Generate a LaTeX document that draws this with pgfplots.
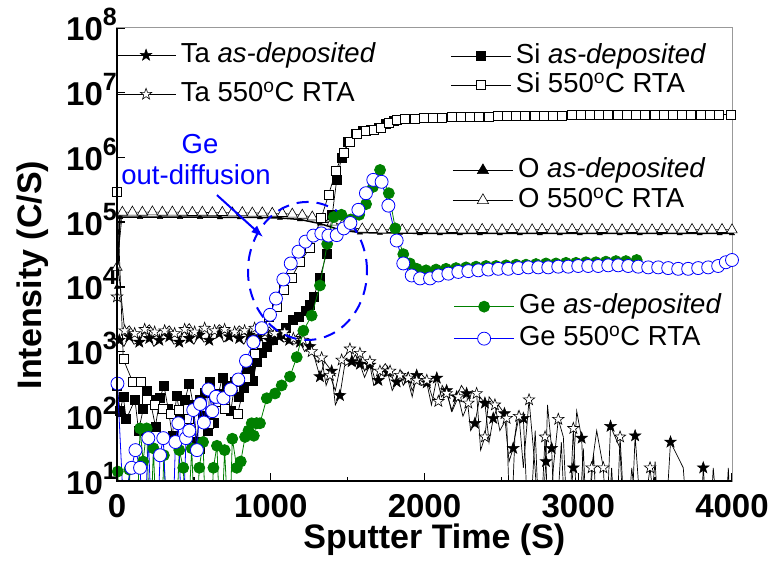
\documentclass[border=0pt]{standalone}
\usepackage{fontspec}
\setmainfont{Liberation Sans}
\usepackage{pgfplots}
\pgfplotsset{compat=1.18}
\usetikzlibrary{arrows.meta}
\definecolor{geg}{RGB}{0,128,0}

% five-pointed star mark
\pgfdeclareplotmark{pstar}{%
  \pgfpathmoveto{\pgfqpointpolar{90}{\pgfplotmarksize}}%
  \pgfpathlineto{\pgfqpointpolar{126}{0.4\pgfplotmarksize}}%
  \pgfpathlineto{\pgfqpointpolar{162}{\pgfplotmarksize}}%
  \pgfpathlineto{\pgfqpointpolar{198}{0.4\pgfplotmarksize}}%
  \pgfpathlineto{\pgfqpointpolar{234}{\pgfplotmarksize}}%
  \pgfpathlineto{\pgfqpointpolar{270}{0.4\pgfplotmarksize}}%
  \pgfpathlineto{\pgfqpointpolar{306}{\pgfplotmarksize}}%
  \pgfpathlineto{\pgfqpointpolar{342}{0.4\pgfplotmarksize}}%
  \pgfpathlineto{\pgfqpointpolar{18}{\pgfplotmarksize}}%
  \pgfpathlineto{\pgfqpointpolar{54}{0.4\pgfplotmarksize}}%
  \pgfpathclose
  \pgfusepathqfillstroke
}

\newcommand{\yl}[1]{\fontsize{33}{33}\selectfont\bfseries 10\raisebox{15pt}{\fontsize{25}{25}\selectfont\bfseries #1}}
\newcommand{\lf}{\fontsize{27.5}{33}\selectfont}

\pgfplotsset{
  legend image code/.code={\draw[mark repeat=2,mark phase=2,#1] plot coordinates {(0pt,0pt) (30pt,0pt) (60pt,0pt)};},
  every axis/.append style={scale only axis, width=615pt, height=453pt,
    xmin=0, xmax=4000, ymin=10, ymax=1e8, legend cell align=left},
  pta/.style={black, line width=0.7pt, mark=pstar, mark size=6pt, mark repeat=2, mark options={solid, line width=0.6pt, fill=black}},
  ptar/.style={pta, mark options={solid, line width=0.6pt, fill=white}},
  psi/.style={black, line width=0.7pt, mark=square*, mark size=4.5pt, mark options={solid, line width=0.6pt, fill=black}},
  psir/.style={psi, mark options={solid, line width=0.6pt, fill=white}},
  pge/.style={geg, line width=0.8pt, mark=*, mark size=5.5pt, mark options={solid, fill=geg, draw=geg}},
  pger/.style={blue, line width=0.8pt, mark=*, mark size=6.5pt, mark options={solid, fill=white, draw=blue, line width=0.8pt}},
}

\begin{document}
\begin{tikzpicture}
\useasboundingbox (-117pt,-82pt) rectangle (656pt,481pt);

% O profiles, frame, ticks and labels
\begin{semilogyaxis}[
  legend style={draw=none, fill=none, inner sep=0pt, anchor=north west, at={(0.5447,0.715)}, font=\lf,
    nodes={inner xsep=4.5pt, inner ysep=0pt, text height=20pt, text depth=6pt}, row sep=4pt},
  legend image post style={mark size=6.5pt},
  axis line style={draw=gray!80, line width=1pt},
  tick pos=left, tick align=inside,
  major tick length=8pt, minor tick length=4pt,
  tick style={black, line width=1.5pt},
  xtick={0,1000,2000,3000,4000}, xticklabels={0,1000,2000,3000,4000},
  minor xtick={500,1500,2500,3500},
  ytick={1e1,1e2,1e3,1e4,1e5,1e6,1e7,1e8}, yminorticks=false,
  yticklabels={{\yl{1}},{\yl{2}},{\yl{3}},{\yl{4}},{\yl{5}},{\yl{6}},{\yl{7}},{\yl{8}}},
  xticklabel style={anchor=north, inner sep=0pt, yshift=-13pt, font=\fontsize{33}{33}\selectfont\bfseries},
  yticklabel style={anchor=base east, inner sep=0pt, yshift=-13pt},
  xlabel={Sputter Time (S)}, ylabel={Intensity (C/S)},
  xlabel style={at={(axis description cs:0.516,-0.094)}, anchor=north, inner sep=0pt, font=\fontsize{34}{34}\selectfont\bfseries},
  ylabel style={at={(axis description cs:-0.1366,0.4547)}, anchor=center, inner sep=0pt, font=\fontsize{34}{34}\selectfont\bfseries}]
\addplot[black, line width=1.5pt, mark=triangle*, mark size=3pt, mark options={solid, fill=black, line width=0.5pt}] coordinates {
(0,1e4)(20,1.2e5)(150,1.2e5)(280,1.2e5)(410,1.2e5)(540,1.2e5)(670,1.19e5)(800,1.19e5)(930,1.18e5)(1060,1.16e5)(1190,1.1e5)(1320,9.5e4)(1450,7.6e4)(1580,6.9e4)(1710,6.8e4)(1840,6.8e4)(1970,6.7e4)(2100,6.7e4)(2230,6.7e4)(2360,6.7e4)(2490,6.7e4)(2620,6.7e4)(2750,6.7e4)(2880,6.7e4)(3010,6.7e4)(3140,6.7e4)(3270,6.7e4)(3400,6.7e4)(3530,6.7e4)(3660,6.7e4)(3790,6.7e4)(3920,6.7e4)(4000,6.7e4)};
\addlegendentry{O \textit{as-deposited}}
\addplot[black, line width=0.6pt, mark=triangle*, mark size=6pt, mark options={solid, fill=white, line width=0.6pt}] coordinates {
(0,2e4)(35,1.42e5)(100,1.43e5)(165,1.42e5)(230,1.44e5)(295,1.42e5)(360,1.43e5)(425,1.42e5)(490,1.41e5)(555,1.42e5)(620,1.40e5)(685,1.41e5)(750,1.39e5)(815,1.40e5)(880,1.38e5)(945,1.39e5)(1010,1.37e5)(1075,1.36e5)(1140,1.33e5)(1205,1.28e5)(1270,1.2e5)(1335,1.1e5)(1400,1.0e5)(1465,9e4)(1530,8.2e4)(1595,7.8e4)(1660,7.7e4)(1725,7.6e4)(1790,7.7e4)(1855,7.6e4)(1920,7.6e4)(1985,7.7e4)(2050,7.6e4)(2115,7.6e4)(2180,7.7e4)(2245,7.6e4)(2310,7.6e4)(2375,7.7e4)(2440,7.6e4)(2505,7.6e4)(2570,7.7e4)(2635,7.6e4)(2700,7.6e4)(2765,7.7e4)(2830,7.6e4)(2895,7.6e4)(2960,7.7e4)(3025,7.6e4)(3090,7.6e4)(3155,7.7e4)(3220,7.6e4)(3285,7.6e4)(3350,7.7e4)(3415,7.6e4)(3480,7.6e4)(3545,7.7e4)(3610,7.6e4)(3675,7.6e4)(3740,7.7e4)(3805,7.6e4)(3870,7.6e4)(3935,7.7e4)(4000,7.6e4)};
\addlegendentry{O 550\textsuperscript{o}C RTA}
\end{semilogyaxis}

% Si profiles
\begin{semilogyaxis}[hide axis,
  legend style={draw=none, fill=none, inner sep=0pt, anchor=north west, at={(0.5423,0.967)}, font=\lf,
    nodes={inner xsep=4.5pt, inner ysep=0pt, text height=20pt, text depth=6pt}, row sep=3pt}]
\addplot[psi, forget plot] coordinates {
(0,300)(20,120)(41,200)(60,90)(117,180)(140,60)(171,130)(195,250)(215,180)(250,70)(280,190)(305,300)(333,130)(360,50)(388,210)(415,90)(442,180)(470,320)(496,150)(520,40)(540,180)(555,100)(572,230)(590,60)(605,340)(630,80)(659,220)(685,400)(713,300)(740,120)(768,340)(795,200)(822,280)(845,500)(865,490)(885,350)(908,700)};
\addplot[psi] coordinates {
(908,700)(941,950)(975,1200)(1015,1500)(1060,1900)(1095,2300)(1145,3100)(1180,3500)(1225,4300)(1255,5200)(1280,7000)(1320,1.4e4)(1364,3.3e4)(1400,1.3e5)(1429,4.5e5)(1461,1.0e6)(1504,1.75e6)(1550,2.3e6)(1600,2.55e6)(1650,2.7e6)(1700,2.85e6)(1750,3.3e6)(1800,3.7e6)(1873,3.9e6)
(1935,4.0e6)(1995,4.05e6)(2055,4.1e6)(2115,4.15e6)(2175,4.2e6)(2235,4.2e6)(2295,4.25e6)(2355,4.3e6)(2415,4.3e6)(2475,4.35e6)(2535,4.35e6)(2595,4.4e6)(2655,4.4e6)(2715,4.4e6)(2775,4.45e6)(2835,4.45e6)(2895,4.45e6)(2955,4.5e6)(3015,4.5e6)(3075,4.5e6)(3135,4.5e6)(3195,4.5e6)(3255,4.55e6)(3315,4.55e6)(3375,4.55e6)(3435,4.55e6)(3495,4.55e6)(3555,4.6e6)(3615,4.6e6)(3675,4.6e6)(3735,4.6e6)(3795,4.6e6)(3855,4.6e6)(3915,4.6e6)(3990,4.6e6)};
\addlegendentry{Si \textit{as-deposited}}
\addplot[psir] coordinates {
(0,2.9e5)(41,760)(102,340)(154,340)(193,180)(247,150)(301,130)(351,110)(399,125)(464,93)(540,32)(594,76)(653,170)(702,130)(785,110)(840,400)(898,930)(952,1900)(985,3500)(1039,5000)(1082,9000)(1136,1.4e4)(1190,2.4e4)(1255,4e4)(1328,1.15e5)(1375,2.6e5)(1424,6.2e5)(1472,1.2e6)(1515,1.75e6)(1559,2.35e6)(1619,2.6e6)(1667,2.7e6)(1715,2.9e6)(1765,3.4e6)(1819,3.8e6)(1873,3.9e6)
(1935,4.0e6)(1995,4.05e6)(2055,4.1e6)(2115,4.15e6)(2175,4.2e6)(2235,4.2e6)(2295,4.25e6)(2355,4.3e6)(2415,4.3e6)(2475,4.35e6)(2535,4.35e6)(2595,4.4e6)(2655,4.4e6)(2715,4.4e6)(2775,4.45e6)(2835,4.45e6)(2895,4.45e6)(2955,4.5e6)(3015,4.5e6)(3075,4.5e6)(3135,4.5e6)(3195,4.5e6)(3255,4.55e6)(3315,4.55e6)(3375,4.55e6)(3435,4.55e6)(3495,4.55e6)(3555,4.6e6)(3615,4.6e6)(3675,4.6e6)(3735,4.6e6)(3795,4.6e6)(3855,4.6e6)(3915,4.6e6)(3990,4.6e6)};
\addlegendentry{Si 550\textsuperscript{o}C RTA}
\end{semilogyaxis}

% Ta profiles
\begin{semilogyaxis}[hide axis,
  legend style={draw=none, fill=none, inner sep=0pt, anchor=north west, at={(-0.0024,0.969)}, font=\lf,
    nodes={inner xsep=4.5pt, inner ysep=0pt, text height=20pt, text depth=6pt}, row sep=13pt}]
\addplot[pta] coordinates {
(15,1500)(45,1200)(80,1700)(110,1300)(145,1400)(175,2000)(210,1600)(240,1200)(275,1500)(305,1900)(340,1700)(370,1300)(405,1400)(435,2100)(470,1600)(500,1300)(535,1800)(565,1400)(600,1500)(630,2000)(665,1900)(695,1400)(730,1700)(760,2200)(795,1600)(825,1300)(860,1800)(890,1500)(925,1700)(955,2100)(990,1500)(1020,1300)(1055,1700)(1085,1400)(1120,1500)(1150,1300)(1190,1400)(1220,1000)(1255,1200)(1285,800)(1320,410)(1350,700)(1396,500)(1420,150)(1450,210)(1480,600)(1526,700)(1550,900)(1580,640)(1610,400)(1645,620)(1670,300)(1700,360)(1730,550)(1760,480)(1790,250)(1819,340)(1850,500)(1890,380)(1920,200)(1949,430)(1980,300)(2015,330)(2045,150)(2080,390)(2110,200)(2144,250)(2175,120)(2209,200)(2240,300)(2274,225)(2300,60)(2328,78)(2360,200)(2393,160)(2420,40)(2447,93)(2480,150)(2520,110)(2550,20)(2577,32)(2610,120)(2643,93)(2680,1)(2720,60)(2750,1)(2790,20)(2800,150)(2827,32)(2850,1)(2890,40)(2920,1)(2968,16)(2990,120)(3022,46)(3050,1)(3100,25)(3130,1)(3180,1)(3210,70)(3272,32)(3300,1)(3340,1)(3370,50)(3420,1)(3450,1)(3500,20)(3530,1)(3560,1)(3600,40)(3683,16)(3720,1)(3760,1)(3790,1)(3813,16)(3850,1)(3878,16)(3920,1)(3960,1)(4000,1)};
\addlegendentry{Ta \textit{as-deposited}}
\addplot[ptar] coordinates {
(0,7000)(8,20000)(50,2100)(80,2500)(115,1900)(145,1500)(180,2200)(210,2600)(245,2000)(275,1600)(310,2100)(340,2500)(375,1900)(405,1600)(440,2200)(470,2700)(505,2000)(535,1700)(570,2300)(600,1800)(635,2100)(665,2600)(700,2200)(730,1700)(765,2000)(795,2500)(830,2100)(860,1800)(895,2300)(925,1900)(960,2000)(990,2400)(1025,1900)(1055,1600)(1090,2000)(1120,1500)(1147,1600)(1180,1900)(1210,1500)(1240,1100)(1266,1000)(1300,700)(1331,800)(1360,300)(1385,430)(1420,250)(1461,740)(1490,900)(1515,1100)(1550,600)(1580,940)(1610,500)(1645,700)(1680,350)(1710,500)(1745,650)(1776,500)(1810,300)(1841,430)(1862,300)(1895,390)(1920,250)(1949,360)(1980,450)(2015,360)(2050,200)(2090,170)(2115,300)(2144,225)(2180,120)(2220,200)(2250,100)(2285,160)(2310,250)(2339,225)(2365,30)(2393,48)(2420,200)(2458,150)(2490,60)(2534,93)(2560,1)(2588,48)(2615,100)(2643,16)(2680,180)(2719,16)(2750,1)(2784,48)(2810,1)(2838,16)(2870,90)(2903,48)(2935,1)(2968,65)(3000,1)(3033,32)(3060,1)(3087,16)(3120,60)(3163,16)(3190,1)(3217,16)(3245,1)(3272,48)(3310,1)(3348,16)(3400,1)(3467,16)(3520,1)(3570,1)(3620,1)(3680,1)(3730,1)(3780,1)(3850,1)(3920,1)(3950,1)(3976,16)(4000,1)};
\addlegendentry{Ta 550\textsuperscript{o}C RTA}
\end{semilogyaxis}

% Ge profiles and annotation
\begin{semilogyaxis}[hide axis, name=ax,
  legend style={draw=none, fill=none, inner sep=0pt, anchor=north west, at={(0.5472,0.414)}, font=\lf,
    nodes={inner xsep=4.5pt, inner ysep=0pt, text height=20pt, text depth=6pt}, row sep=6pt}]
\addplot[pge, forget plot] coordinates {
(5,14)(25,1)(60,1)(80,15)(105,1)(125,1)(150,65)(170,20)(193,65)(215,1)(237,32)(260,1)(285,1)(305,25)(330,1)(355,1)(380,1)(405,30)(431,16)(455,1)(486,32)(510,1)(535,16)(560,40)(580,1)(605,1)(627,16)(650,35)(675,1)(700,30)(730,1)(750,45)(779,16)(805,20)(833,48)(855,60)(876,78)(890,50)(908,78)};
\addplot[pge] coordinates {
(908,78)(930,78)(974,190)(1028,225)(1071,300)(1125,410)(1169,820)(1212,2100)(1266,3600)(1320,1.05e4)(1367,4.6e4)(1410,1.2e5)(1460,1.3e5)(1520,1.1e5)(1575,1.3e5)(1620,1.9e5)(1665,3.5e5)(1711,6.4e5)(1768,2.8e5)(1810,8e4)(1862,3.2e4)(1905,2.3e4)(1950,1.9e4)(2010,1.8e4)(2075,1.85e4)(2140,1.9e4)(2205,1.95e4)(2270,2.0e4)(2335,2.05e4)(2400,2.1e4)(2465,2.1e4)(2530,2.15e4)(2595,2.2e4)(2660,2.2e4)(2725,2.25e4)(2790,2.3e4)(2855,2.3e4)(2920,2.35e4)(2985,2.35e4)(3050,2.4e4)(3115,2.4e4)(3180,2.45e4)(3245,2.5e4)(3310,2.5e4)(3380,2.6e4)};
\addlegendentry{Ge \textit{as-deposited}}
\addplot[pger, forget plot] coordinates {
(3,320)(40,5)(95,16)(120,30)(150,16)(175,1)(204,46)(230,1)(260,1)(280,25)(301,46)(330,1)(360,1)(380,40)(399,78)(425,1)(449,46)(470,60)(496,125)(520,30)(540,155)(565,80)(594,260)(620,120)(644,200)};
\addplot[pger] coordinates {
(644,200)(692,190)(739,260)(789,370)(839,720)(887,1400)(941,2300)(995,3700)(1034,6600)(1082,1.3e4)(1130,2.3e4)(1180,3.5e4)(1226,5e4)(1277,6.2e4)(1329,6.7e4)(1375,6.2e4)(1429,6.3e4)(1475,8e4)(1518,9.7e4)(1570,1.55e5)(1619,2.8e5)(1667,4.5e5)(1721,4.2e5)(1765,1.8e5)(1819,5.2e4)(1862,2.3e4)(1917,1.5e4)(1971,1.35e4)(2036,1.35e4)(2090,1.5e4)(2155,1.6e4)(2220,1.7e4)(2285,1.75e4)(2350,1.8e4)(2415,1.85e4)(2480,1.9e4)(2545,1.9e4)(2610,1.95e4)(2675,2.0e4)(2740,2.0e4)(2805,2.0e4)(2870,2.05e4)(2935,2.05e4)(3000,2.1e4)(3065,2.1e4)(3130,2.1e4)(3195,2.15e4)(3260,2.15e4)(3325,2.1e4)(3390,2.05e4)(3455,2.0e4)(3520,2.0e4)(3585,1.95e4)(3650,1.9e4)(3715,1.9e4)(3780,1.95e4)(3845,2.0e4)(3910,2.1e4)(3960,2.4e4)(4000,2.6e4)};
\addlegendentry{Ge 550\textsuperscript{o}C RTA}
\node[anchor=base, text=blue, font=\lf] at (axis cs:540,1.17e6) {Ge};
\node[anchor=base, text=blue, font=\lf] at (axis cs:514,3.75e5) {out-diffusion};
\draw[blue, line width=2pt, -{Latex[length=12pt,width=9pt]}] (axis cs:650,2.62e5) -- (axis cs:950,5.9e4);
\draw[blue, line width=2pt, dash pattern=on 12pt off 8pt] (axis cs:1239,1.76e4) ellipse [x radius=59.5pt, y radius=69pt];
\end{semilogyaxis}
\draw[black, line width=2.5pt] (ax.north west) -- (ax.south west) -- (ax.south east);
\end{tikzpicture}
\end{document}
